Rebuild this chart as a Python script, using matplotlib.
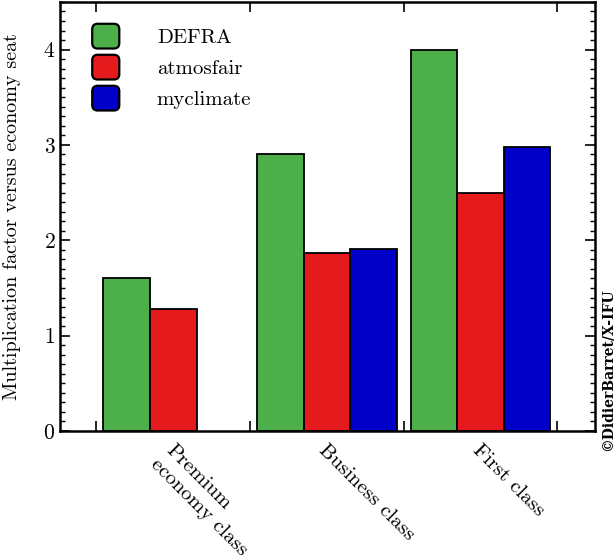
import numpy as np
import matplotlib
matplotlib.use("Agg")
import matplotlib.pyplot as plt
from matplotlib.patches import FancyBboxPatch
from matplotlib.ticker import MultipleLocator
from matplotlib.transforms import ScaledTranslation

plt.rcParams['font.family'] = ['cmr10', 'DejaVu Serif']
plt.rcParams['axes.formatter.use_mathtext'] = True
plt.rcParams['font.size'] = 15

# datos
clases = ["Premium\neconomy class", "Business class", "First class"]
fuentes = ["DEFRA", "atmosfair", "myclimate"]
colores = ["#4daf4a", "#e41a1c", "#0000c8"]
defra = [1.60, 2.90, 4.00]
atmosfair = [1.28, 1.87, 2.50]
myclimate = [np.nan, 1.91, 2.98]
valores = [defra, atmosfair, myclimate]


class HandlerRedondo:
    # cuadro con esquinas redondeadas para la leyenda
    def legend_artist(self, legend, orig_handle, fontsize, handlebox):
        x0, y0 = -handlebox.xdescent, -handlebox.ydescent
        w, h = handlebox.width, handlebox.height
        r = 0.22 * min(w, h)
        p = FancyBboxPatch((x0 + r, y0 + r), w - 2 * r, h - 2 * r,
                           boxstyle="round,pad=%f" % r,
                           facecolor=orig_handle.get_facecolor(),
                           edgecolor="black", linewidth=1.6,
                           transform=handlebox.get_transform())
        handlebox.add_artist(p)
        return p


fig = plt.figure(figsize=(6.14, 5.58), dpi=100)
ax = fig.add_axes([0.097, 0.2276, 0.872, 0.769])

x = np.arange(len(clases))
ancho = 0.303
barras = []
for i, (vals, col, nom) in enumerate(zip(valores, colores, fuentes)):
    b = ax.bar(x + (i - 1) * ancho, vals, ancho, color=col,
               edgecolor="black", linewidth=1.3, label=nom)
    barras.append(b[0])

ax.set_xlim(-0.74, 2.745)
ax.set_ylim(0, 4.5)

ax.yaxis.set_major_locator(MultipleLocator(1))
ax.yaxis.set_minor_locator(MultipleLocator(0.1))
ax.tick_params(axis='y', which='both', direction='in', left=True, right=True)
ax.tick_params(axis='y', which='major', length=7, width=1.2, pad=3,
               labelsize=15.5)
ax.tick_params(axis='y', which='minor', length=3.5, width=1.0)

ax.set_xticks(x)
ax.set_xticklabels(clases, rotation=-45, ha='left', va='top',
                   rotation_mode='anchor', multialignment='left')
ax.set_xticks(np.arange(len(clases) + 1) - 0.5, minor=True)
ax.tick_params(axis='x', which='major', length=0, pad=7)
ax.tick_params(axis='x', which='minor', direction='in', top=True,
               bottom=True, length=7, width=1.2)
desplazamiento = ScaledTranslation(1 / 72, 0, fig.dpi_scale_trans)
for etiqueta in ax.get_xticklabels():
    etiqueta.set_transform(etiqueta.get_transform() + desplazamiento)

for s in ax.spines.values():
    s.set_linewidth(1.8)

ax.set_ylabel("Multiplication factor versus economy seat", fontsize=14.5)
ax.yaxis.set_label_coords(-0.072, 0.5)

ax.legend(barras, fuentes, loc='upper left',
          bbox_to_anchor=(0.061, 0.949), frameon=False,
          borderaxespad=0, borderpad=0, handlelength=1.3,
          handleheight=1.45, handletextpad=1.8, labelspacing=0.3,
          handler_map={matplotlib.patches.Rectangle: HandlerRedondo()})

fig.text(0.990, 0.337, "\u00a9DidierBarret/X-IFU", rotation=90,
         ha='center', va='center', fontsize=10, fontweight='bold',
         family=['DejaVu Serif'])

fig.savefig("out.png", dpi=100)
